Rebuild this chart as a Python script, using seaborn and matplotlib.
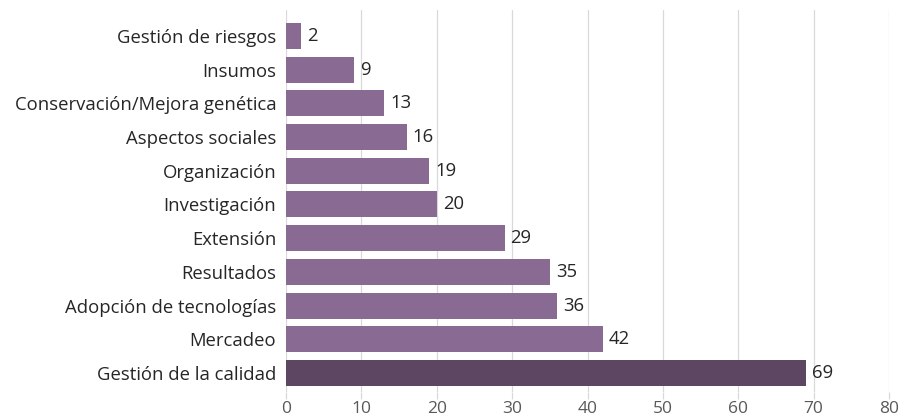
import matplotlib
matplotlib.use("Agg")
import matplotlib.pyplot as plt
import seaborn as sns
import pandas as pd

categories = ["Gestión de riesgos", "Insumos", "Conservación/Mejora genética",
              "Aspectos sociales", "Organización", "Investigación", "Extensión",
              "Resultados", "Adopción de tecnologías", "Mercadeo", "Gestión de la calidad"]
values = [2, 9, 13, 16, 19, 20, 29, 35, 36, 42, 69]
xticks = [0, 10, 20, 30, 40, 50, 60, 70, 80]

df = pd.DataFrame({"cat": categories, "val": values})
df["grp"] = ["max" if v == max(values) else "other" for v in values]

sns.set_theme(style="white")
plt.rcParams['font.family'] = ['Open Sans', 'DejaVu Sans']

fig = plt.figure(figsize=(9, 4.17), dpi=100)
left, right, top, bottom = 286 / 900, 889 / 900, 1 - 10 / 417, 1 - 392 / 417
ax = fig.add_axes([left, bottom, right - left, top - bottom])

sns.barplot(data=df, y="cat", x="val", hue="grp",
            palette={"other": "#886A92", "max": "#5C4662"},
            dodge=False, width=0.77, legend=False, ax=ax, saturation=1,
            linewidth=0)

ax.set_xlim(0, 80)
ax.set_ylim(10.564, -0.77)
ax.set_xticks(xticks)
ax.set_xticklabels([str(t) for t in xticks], color="#595959", fontsize=12.5)
ax.set_xlabel("")
ax.set_ylabel("")
ax.tick_params(axis="y", length=0, labelsize=13.3, labelcolor="#262626", pad=7)
ax.tick_params(axis="x", length=5, color="#D9D9D9", width=0.9, direction="out", pad=1.5, bottom=True)
ax.xaxis.grid(True, color="#D9D9D9", linewidth=0.9)
ax.set_axisbelow(True)
for s in ["top", "right", "left", "bottom"]:
    ax.spines[s].set_visible(False)

for i, v in enumerate(values):
    ax.text(v + 0.8, i, str(v), va="center", ha="left", fontsize=13.3, color="#262626")

fig.savefig("out.png", dpi=100)
